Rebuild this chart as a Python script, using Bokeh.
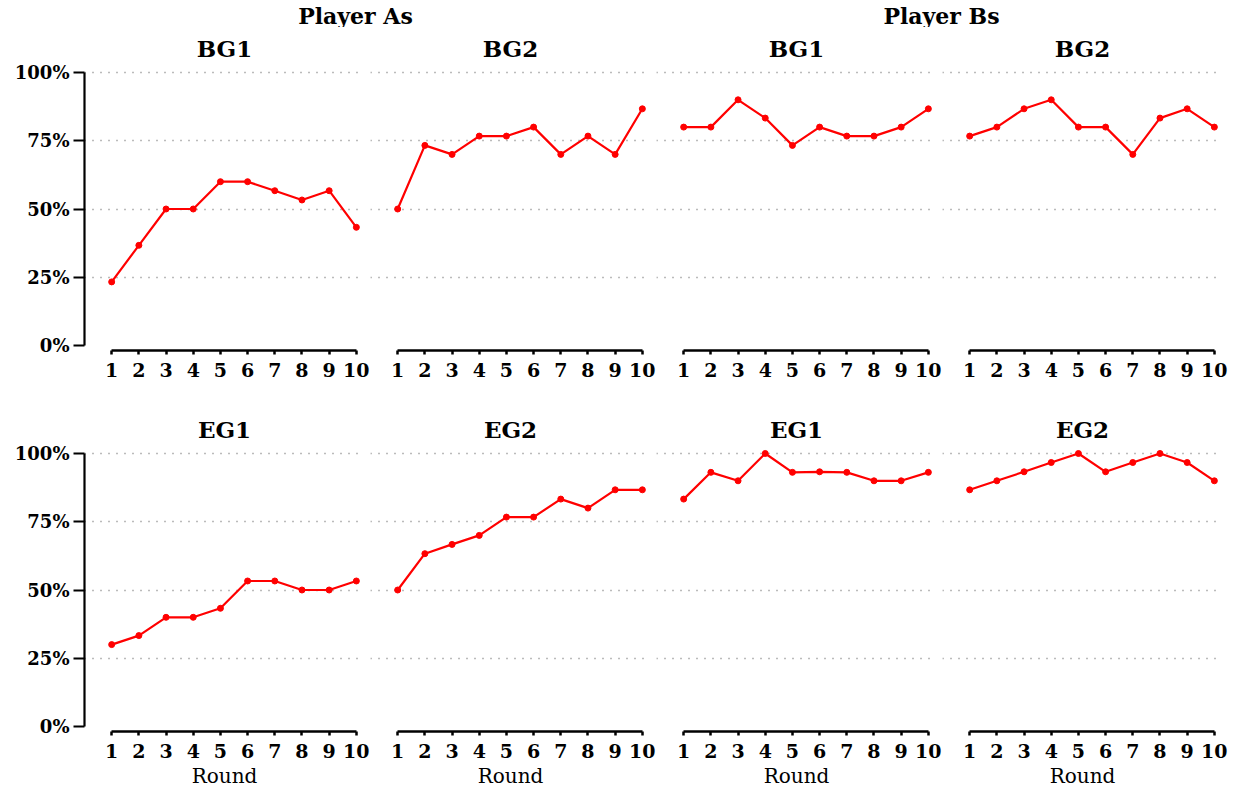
from bokeh.plotting import figure
from bokeh.layouts import column, row
from bokeh.models import (Range1d, LinearAxis, FixedTicker, NumeralTickFormatter,
                          Label, Grid)
from bokeh.embed import file_html
from bokeh.resources import INLINE

# ---------------- data ----------------
rounds = list(range(1, 11))
x_ticks = list(range(1, 11))
y_ticks = [0, 0.25, 0.5, 0.75, 1.0]
grid_ticks = [0.25, 0.5, 0.75, 1.0]

a_bg1 = [0.233, 0.367, 0.500, 0.500, 0.600, 0.600, 0.567, 0.533, 0.567, 0.433]
a_bg2 = [0.500, 0.733, 0.700, 0.767, 0.767, 0.800, 0.700, 0.767, 0.700, 0.867]
b_bg1 = [0.800, 0.800, 0.900, 0.833, 0.733, 0.800, 0.767, 0.767, 0.800, 0.867]
b_bg2 = [0.767, 0.800, 0.867, 0.900, 0.800, 0.800, 0.700, 0.833, 0.867, 0.800]
a_eg1 = [0.300, 0.333, 0.400, 0.400, 0.433, 0.533, 0.533, 0.500, 0.500, 0.533]
a_eg2 = [0.500, 0.633, 0.667, 0.700, 0.767, 0.767, 0.833, 0.800, 0.867, 0.867]
b_eg1 = [0.833, 0.931, 0.900, 1.000, 0.931, 0.933, 0.931, 0.900, 0.900, 0.931]
b_eg2 = [0.867, 0.900, 0.933, 0.967, 1.000, 0.933, 0.967, 1.000, 0.967, 0.900]

group_titles = ["Player As", "Player Bs"]
panel_titles = [["BG1", "BG2", "BG1", "BG2"], ["EG1", "EG2", "EG1", "EG2"]]
series = [[a_bg1, a_bg2, b_bg1, b_bg2], [a_eg1, a_eg2, b_eg1, b_eg2]]
x_label = "Round"

# ---------------- style ----------------
SERIF = "DejaVu Serif"
X_END = 10.3
FRAME_W = 280
FRAME_H = 284
Y_PX = 273.0
Y_MIN = -5 / Y_PX
Y_MAX = 1 + 6 / Y_PX
HDR_H = 27
TOTAL_W = 84 + 4 * 286


def make_panel(r, c):
    p = figure(frame_width=FRAME_W, frame_height=FRAME_H,
               x_range=Range1d(0, X_END), y_range=Range1d(Y_MIN, Y_MAX),
               x_axis_location=None, y_axis_location=None,
               toolbar_location=None, output_backend="svg",
               title=panel_titles[r][c],
               min_border_left=84 if c == 0 else 0,
               min_border_right=6,
               min_border_top=39,
               min_border_bottom=58,
               background_fill_color="white", border_fill_color="white",
               outline_line_color=None)
    p.center = [g for g in p.center if not isinstance(g, Grid)]
    p.title.align = "center"
    p.title.offset = -4
    p.title.text_font = SERIF
    p.title.text_font_style = "bold"
    p.title.text_font_size = "23px"
    p.title.text_color = "black"
    p.title.standoff = 10

    p.add_layout(Grid(dimension=1, ticker=FixedTicker(ticks=grid_ticks), bounds=(1, 10),
                      grid_line_color="#777777", grid_line_dash="1 7",
                      grid_line_width=1.3))

    xa = LinearAxis(ticker=FixedTicker(ticks=x_ticks), bounds=(1, 10),
                    axis_line_width=2.7, axis_line_color="black",
                    major_tick_line_width=2.5, major_tick_out=4, major_tick_in=0,
                    minor_tick_out=0, major_label_standoff=8,
                    major_label_text_font=SERIF, major_label_text_font_style="bold",
                    major_label_text_font_size="19px", major_label_text_color="black")
    if r == 1:
        xa.axis_label = x_label
        xa.axis_label_text_font = SERIF
        xa.axis_label_text_font_style = "normal"
        xa.axis_label_text_font_size = "20px"
        xa.axis_label_text_color = "black"
        xa.axis_label_standoff = 3
    p.add_layout(xa, "below")

    if c == 0:
        ya = LinearAxis(ticker=FixedTicker(ticks=y_ticks),
                        formatter=NumeralTickFormatter(format="0%"), bounds=(0, 1),
                        axis_line_width=2.2, axis_line_color="black",
                        major_tick_line_width=2.2, major_tick_out=11, major_tick_in=0,
                        minor_tick_out=0, major_label_standoff=4,
                        major_label_text_font=SERIF, major_label_text_font_style="bold",
                        major_label_text_font_size="18px", major_label_text_color="black")
        p.add_layout(ya, "left")

    vals = series[r][c]
    p.line(rounds, vals, line_color="#ff0000", line_width=2.2)
    p.scatter(rounds, vals, size=6, fill_color="#ff0000", line_color="#ff0000")
    return p


rows = []
for r in range(2):
    rows.append(row(*[make_panel(r, c) for c in range(4)]))

hdr = figure(width=TOTAL_W, height=HDR_H, x_range=Range1d(0, TOTAL_W), y_range=Range1d(0, HDR_H),
             x_axis_location=None, y_axis_location=None, toolbar_location=None,
             title_location=None,
             output_backend="svg", min_border=0, outline_line_color=None,
             background_fill_color="white", border_fill_color="white")
hdr.center = [g for g in hdr.center if not isinstance(g, Grid)]
for xpos, txt in zip([355, 941], group_titles):
    hdr.add_layout(Label(x=xpos, y=12, text=txt, text_align="center",
                         text_baseline="alphabetic", text_font=SERIF,
                         text_font_style="bold", text_font_size="22px",
                         text_color="black"))

layout = column(hdr, rows[0], rows[1])
open("out.html", "w").write(file_html(layout, INLINE))
